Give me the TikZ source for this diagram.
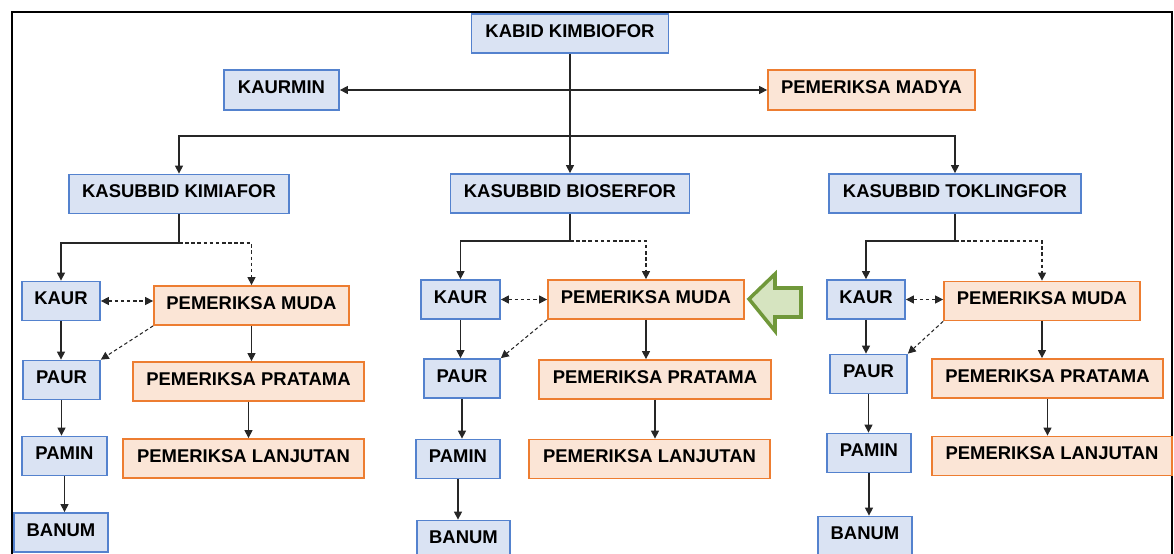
\documentclass[tikz,border=0pt]{standalone}
\usepackage{fontspec}
\setmainfont{Liberation Sans}
\usetikzlibrary{calc,arrows.meta,positioning}
\definecolor{boxblue}{RGB}{218,227,243}
\definecolor{lineblue}{RGB}{84,130,206}
\definecolor{boxorange}{RGB}{251,229,214}
\definecolor{lineorange}{RGB}{237,125,49}
\definecolor{arrowfill}{RGB}{214,228,192}
\definecolor{arrowline}{RGB}{112,152,58}

\begin{document}
\begin{tikzpicture}[x=0.02cm,y=-0.02cm,
  unit/.style={draw=lineblue,fill=boxblue,line width=1pt,minimum height=0.78cm,
    inner sep=0pt,text depth=3pt,font=\fontsize{10.5}{12}\selectfont\bfseries},
  examiner/.style={unit,draw=lineorange,fill=boxorange},
  arr/.style={-{Triangle[length=4.5pt,width=4.5pt]},draw=black!85,line width=0.6pt},
  dasharr/.style={arr,dash pattern=on 2pt off 1.5pt},
  biarr/.style={dasharr,{Triangle[length=4.5pt,width=4.5pt]}-{Triangle[length=4.5pt,width=4.5pt]}}]

    \useasboundingbox (0,0) rectangle (1174,554);
    \clip (0,0) rectangle (1174,554);

    % frame
    \draw[line width=1.2pt] (12,570) -- (12,12) -- (1172,12) -- (1172,570);

    % top level
    \node[unit, minimum width=3.94cm] (KABID) at (570,33.5) {KABID KIMBIOFOR};
    \node[unit, minimum width=2.30cm, minimum height=0.8cm] (KAURMIN) at (281.5,90) {KAURMIN};
    \node[examiner, minimum width=4.14cm, minimum height=0.8cm] (MADYA) at (871.5,90) {PEMERIKSA MADYA};

    \node[unit, minimum width=4.40cm] (SubA) at (179,194) {KASUBBID KIMIAFOR};
    \node[unit, minimum width=4.78cm] (SubB) at (570,193.5) {KASUBBID BIOSERFOR};
    \node[unit, minimum width=5.04cm] (SubC) at (955,193.5) {KASUBBID TOKLINGFOR};

    \coordinate (hub) at (570,136);

    \draw[arr] (KABID) -- (SubB);
    \draw[biarr,solid] (KAURMIN) -- (MADYA);
    \draw[arr] (hub) -| (SubA.north);
    \draw[arr] (hub) -| (SubC.north);

    % kimiafor
    \node[unit, minimum width=1.56cm] (KaurA) at (61,301) {KAUR};
    \node[examiner, minimum width=3.90cm] (MudaA) at (251.5,305.5) {PEMERIKSA MUDA};
    \node[unit, minimum width=1.54cm] (PaurA) at (61.5,380) {PAUR};
    \node[examiner, minimum width=4.62cm] (PratA) at (248.5,381.5) {PEMERIKSA PRATAMA};
    \node[unit, minimum width=1.70cm] (PaminA) at (64.5,456) {PAMIN};
    \node[examiner, minimum width=4.82cm] (LanjA) at (243.5,458.5) {PEMERIKSA LANJUTAN};
    \node[unit, minimum width=1.88cm] (BanumA) at (61,532.5) {BANUM};

    % bioserfor
    \node[unit, minimum width=1.58cm] (KaurB) at (460.5,299.5) {KAUR};
    \node[examiner, minimum width=3.92cm] (MudaB) at (646,299.5) {PEMERIKSA MUDA};
    \node[unit, minimum width=1.52cm] (PaurB) at (462,378.5) {PAUR};
    \node[examiner, minimum width=4.64cm] (PratB) at (655,379.5) {PEMERIKSA PRATAMA};
    \node[unit, minimum width=1.68cm] (PaminB) at (458,459) {PAMIN};
    \node[examiner, minimum width=4.82cm] (LanjB) at (649.5,459) {PEMERIKSA LANJUTAN};
    \node[unit, minimum width=1.86cm] (BanumB) at (463.5,540) {BANUM};

    % toklingfor
    \node[unit, minimum width=1.56cm] (KaurC) at (866,299.5) {KAUR};
    \node[examiner, minimum width=3.92cm] (MudaC) at (1042,301) {PEMERIKSA MUDA};
    \node[unit, minimum width=1.54cm] (PaurC) at (868.5,374) {PAUR};
    \node[examiner, minimum width=4.62cm] (PratC) at (1047.5,378.5) {PEMERIKSA PRATAMA};
    \node[unit, minimum width=1.68cm] (PaminC) at (869,453) {PAMIN};
    \node[examiner, minimum width=4.80cm] (LanjC) at (1052,456) {PEMERIKSA LANJUTAN};
    \node[unit, minimum width=1.88cm] (BanumC) at (865,536) {BANUM};

    \coordinate (jA) at (179,243);
    \coordinate (jB) at (570,241);
    \coordinate (jC) at (955,241);

    \foreach \c in {A,B,C}{
      \draw[draw=black!85,line width=0.6pt] (Sub\c.south) -- (j\c);
      \draw[arr] (j\c) -| (Kaur\c.north);
      \draw[dasharr] (j\c) -| (Muda\c.north);
      \draw[biarr] (Kaur\c.east) -- (Kaur\c.east -| Muda\c.west);
      \draw[dasharr] (Muda\c.south west) -- (Paur\c.north east);
      \draw[arr] (Kaur\c.south) -- (Kaur\c.south |- Paur\c.north);
      \draw[arr] (Paur\c.south) -- (Paur\c.south |- Pamin\c.north);
      \draw[arr] (Pamin\c.south) -- (Pamin\c.south |- Banum\c.north);
      \draw[arr] (Muda\c.south) -- (Muda\c.south |- Prat\c.north);
      \draw[arr] (Prat\c.south) -- (Prat\c.south |- Lanj\c.north);
    }

    % pointer to the highlighted examiner
    \draw[draw=arrowline,fill=arrowfill,line width=2pt,line join=miter]
      (749,299) -- (775,274) -- (775,288) -- (801,288) -- (801,317)
      -- (775,317) -- (775,331) -- cycle;

\end{tikzpicture}
\end{document}
